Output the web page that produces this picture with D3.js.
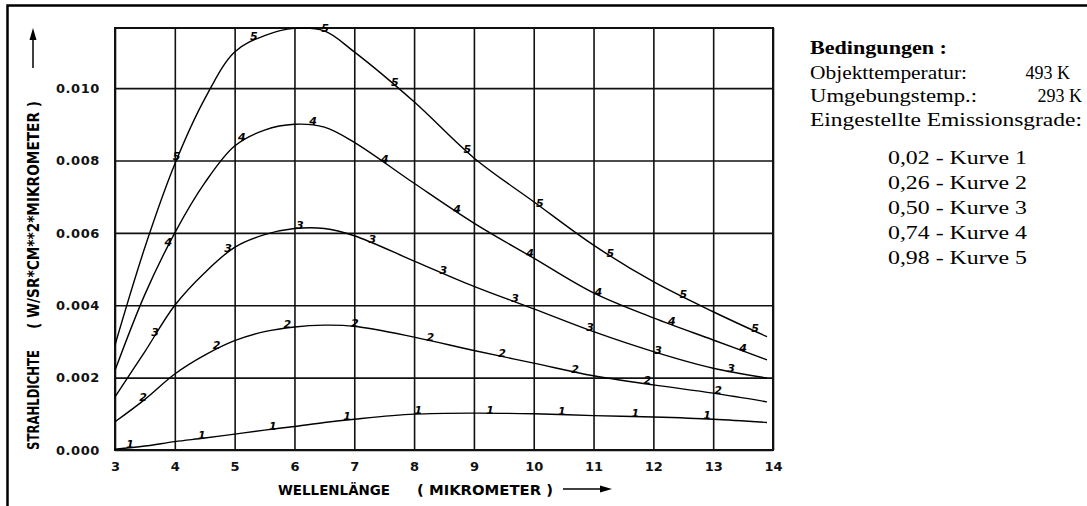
<!DOCTYPE html>
<html>
<head>
<meta charset="utf-8">
<script src="https://cdn.jsdelivr.net/npm/d3@7"></script>
<style>
  body { margin: 0; background: #fff; }
  svg { display: block; }
</style>
</head>
<body>
<div id="chart"></div>
<script>
// values
const wavelength = [3, 3.5, 4, 4.5, 5, 5.5, 6, 6.5, 7, 8, 9, 10, 11, 12, 13, 13.9];
const kurve1 = [0.00002, 0.00011, 0.00023, 0.00033, 0.00044, 0.00055, 0.00065, 0.00076, 0.00085, 0.00099, 0.00102, 0.00100, 0.00095, 0.00091, 0.00085, 0.00076];
const kurve2 = [0.00078, 0.00140, 0.00210, 0.00262, 0.00302, 0.00327, 0.00340, 0.00345, 0.00342, 0.00312, 0.00275, 0.00240, 0.00205, 0.00180, 0.00157, 0.00133];
const kurve3 = [0.00147, 0.00272, 0.00400, 0.00490, 0.00560, 0.00595, 0.00612, 0.00612, 0.00592, 0.00522, 0.00452, 0.00390, 0.00327, 0.00272, 0.00226, 0.00199];
const kurve4 = [0.00220, 0.00430, 0.00600, 0.00738, 0.00840, 0.00884, 0.00900, 0.00892, 0.00850, 0.00737, 0.00627, 0.00530, 0.00434, 0.00365, 0.00304, 0.00249];
const kurve5 = [0.00290, 0.00560, 0.00790, 0.00970, 0.01100, 0.01145, 0.01165, 0.01158, 0.01100, 0.00962, 0.00807, 0.00686, 0.00566, 0.00465, 0.00382, 0.00313];

// where the curve numbers sit along each curve (wavelength)
const labels1 = [3.25, 4.45, 5.64, 6.88, 8.07, 9.27, 10.47, 11.7, 12.9];
const labels2 = [3.47, 4.7, 5.88, 7.01, 8.27, 9.47, 10.69, 11.9, 13.08];
const labels3 = [3.67, 4.89, 6.09, 7.3, 8.49, 9.69, 10.94, 12.08, 13.3];
const labels4 = [3.89, 5.12, 6.31, 7.51, 8.72, 9.94, 11.08, 12.31, 13.5];
const labels5 = [4.03, 5.32, 6.51, 7.68, 8.89, 10.1, 11.28, 12.5, 13.7];

const xTicks = [3, 4, 5, 6, 7, 8, 9, 10, 11, 12, 13, 14];
const yTicks = [0, 0.002, 0.004, 0.006, 0.008, 0.010];
const yTickLabels = ["0.000", "0.002", "0.004", "0.006", "0.008", "0.010"];
const yMax = 0.01166;

const legendHead = "Bedingungen :";
const legendRows = ["Objekttemperatur:", "Umgebungstemp.:", "Eingestellte Emissionsgrade:"];
const legendTemps = ["493 K", "293 K", ""];
const emissivities = ["0,02", "0,26", "0,50", "0,74", "0,98"];
const curveNames = ["Kurve 1", "Kurve 2", "Kurve 3", "Kurve 4", "Kurve 5"];

const W = 1087, H = 506;
const margin = { top: 28, right: 314, bottom: 56, left: 115 };
const width = W - margin.left - margin.right;
const height = H - margin.top - margin.bottom;

const svgRoot = d3.select("#chart").append("svg")
    .attr("width", W)
    .attr("height", H);

// scan border (top and left only)
svgRoot.append("path")
    .attr("d", `M7.5,${H} L7.5,5.5 L${W},5.5`)
    .attr("fill", "none")
    .attr("stroke", "#000")
    .attr("stroke-width", 2.5);

const svg = svgRoot.append("g")
    .attr("transform", `translate(${margin.left},${margin.top})`);

const x = d3.scaleLinear().domain([3, 14]).range([0, width]);
const y = d3.scaleLinear().domain([0, yMax]).range([height, 0]);

const tickFont = "'DejaVu Sans', sans-serif";

// grid + tick labels
const xAxis = svg.append("g")
    .attr("transform", `translate(0,${height})`)
    .call(d3.axisBottom(x).tickValues(xTicks).tickFormat(d3.format("d"))
        .tickSizeInner(-height).tickSizeOuter(0).tickPadding(12));
xAxis.select(".domain").remove();
xAxis.selectAll("line").attr("stroke", "#111").attr("stroke-width", 1.6);
xAxis.selectAll("text")
    .attr("font-family", tickFont).attr("font-weight", "bold")
    .attr("font-size", 13).attr("fill", "#111");

const yAxis = svg.append("g")
    .call(d3.axisLeft(y).tickValues(yTicks).tickFormat((d, i) => yTickLabels[i])
        .tickSizeInner(-width).tickSizeOuter(0).tickPadding(15));
yAxis.select(".domain").remove();
yAxis.selectAll("line").attr("stroke", "#111").attr("stroke-width", 1.6);
yAxis.selectAll("text")
    .attr("font-family", tickFont).attr("font-weight", "bold")
    .attr("font-size", 13).attr("letter-spacing", 0.6).attr("fill", "#111");

// plot frame
svg.append("rect")
    .attr("x", x(3)).attr("y", y(yMax))
    .attr("width", x(14) - x(3)).attr("height", y(0) - y(yMax))
    .attr("fill", "none").attr("stroke", "#111").attr("stroke-width", 2);

// curves
const line = d3.line()
    .x((d, i) => x(wavelength[i]))
    .y(d => y(d))
    .curve(d3.curveCatmullRom.alpha(0.5));

const series = [kurve1, kurve2, kurve3, kurve4, kurve5];
const labelSets = [labels1, labels2, labels3, labels4, labels5];

series.forEach((vals, k) => {
    const path = svg.append("path")
        .datum(vals)
        .attr("d", line)
        .attr("fill", "none")
        .attr("stroke", "#000")
        .attr("stroke-width", 1.4);

    const node = path.node();
    const total = node.getTotalLength();
    const yOnPath = px => {
        let lo = 0, hi = total, p = node.getPointAtLength(0);
        for (let it = 0; it < 30; it++) {
            const mid = (lo + hi) / 2;
            p = node.getPointAtLength(mid);
            if (p.x < px) lo = mid; else hi = mid;
        }
        return p.y;
    };

    svg.append("g").selectAll("text")
        .data(labelSets[k])
        .enter()
        .append("text")
        .attr("x", d => x(d))
        .attr("y", d => yOnPath(x(d)) - 3)
        .attr("text-anchor", "middle")
        .attr("dominant-baseline", "central")
        .attr("font-family", tickFont)
        .attr("font-weight", "bold")
        .attr("font-style", "italic")
        .attr("font-size", 11)
        .attr("fill", "#000")
        .text(String(k + 1));
});

// axis titles
const titleFont = "'DejaVu Sans Condensed', 'DejaVu Sans', sans-serif";
svgRoot.append("text")
    .attr("x", 278).attr("y", 495)
    .attr("font-family", titleFont).attr("font-weight", "bold").attr("font-size", 14)
    .attr("textLength", 112).attr("lengthAdjust", "spacingAndGlyphs")
    .text("WELLENLÄNGE");
svgRoot.append("text")
    .attr("x", 417).attr("y", 495)
    .attr("font-family", titleFont).attr("font-weight", "bold").attr("font-size", 14)
    .attr("textLength", 136).attr("lengthAdjust", "spacingAndGlyphs")
    .text("( MIKROMETER )");
svgRoot.append("line")
    .attr("x1", 563).attr("y1", 489).attr("x2", 604).attr("y2", 489)
    .attr("stroke", "#000").attr("stroke-width", 1.5);
svgRoot.append("path")
    .attr("d", "M612,489 L600,485.5 L600,492.5 Z").attr("fill", "#000");

const yTitle = svgRoot.append("g").attr("transform", "translate(39,0) rotate(-90)");
yTitle.append("text")
    .attr("x", -450).attr("y", 0)
    .attr("font-family", titleFont).attr("font-weight", "bold").attr("font-size", 15)
    .attr("textLength", 100).attr("lengthAdjust", "spacingAndGlyphs")
    .text("STRAHLDICHTE");
yTitle.append("text")
    .attr("x", -329).attr("y", 0)
    .attr("font-family", titleFont).attr("font-weight", "bold").attr("font-size", 15)
    .attr("textLength", 228).attr("lengthAdjust", "spacingAndGlyphs")
    .text("( W/SR*CM**2*MIKROMETER )");
svgRoot.append("line")
    .attr("x1", 33).attr("y1", 68).attr("x2", 33).attr("y2", 36)
    .attr("stroke", "#000").attr("stroke-width", 1.5);
svgRoot.append("path")
    .attr("d", "M33,28 L29.5,40 L36.5,40 Z").attr("fill", "#000");

// conditions box on the right
const serif = "'Liberation Serif', 'Times New Roman', serif";
svgRoot.append("text")
    .attr("x", 810).attr("y", 54)
    .attr("font-family", serif).attr("font-weight", "bold").attr("font-size", 18)
    .attr("textLength", 137).attr("lengthAdjust", "spacingAndGlyphs")
    .text(legendHead);

const rowY = [79, 102, 126];
const rowW = [157, 167, 272];
const tempEnd = [1070, 1082];
legendRows.forEach((t, i) => {
    svgRoot.append("text")
        .attr("x", 810).attr("y", rowY[i])
        .attr("font-family", serif).attr("font-size", 18)
        .attr("textLength", rowW[i]).attr("lengthAdjust", "spacingAndGlyphs")
        .text(t);
    if (legendTemps[i]) {
        svgRoot.append("text")
            .attr("x", tempEnd[i]).attr("y", rowY[i])
            .attr("text-anchor", "end")
            .attr("font-family", serif).attr("font-size", 18)
            .text(legendTemps[i]);
    }
});

emissivities.forEach((e, i) => {
    svgRoot.append("text")
        .attr("x", 888).attr("y", 164 + i * 25)
        .attr("font-family", serif).attr("font-size", 18)
        .attr("textLength", 139).attr("lengthAdjust", "spacingAndGlyphs")
        .text(`${e} - ${curveNames[i]}`);
});
</script>
</body>
</html>
